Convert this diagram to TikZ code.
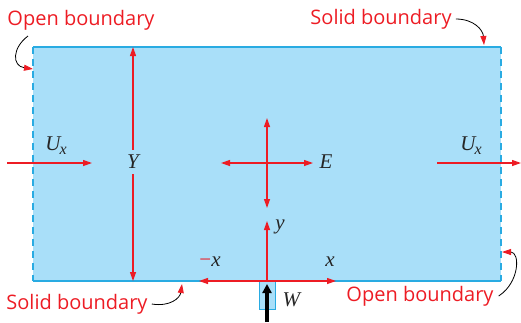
\documentclass[tikz,border=0pt]{standalone}
\usepackage{fontspec}
\setsansfont{Open Sans}
\newfontfamily\symfont{Liberation Serif}
\usepackage{tikz}
\usetikzlibrary{
arrows.meta,
positioning,
calc
}
\definecolor{flowblue}{HTML}{A9DFF9}
\definecolor{edgeblue}{HTML}{29ABE2}
\definecolor{tagred}{HTML}{ED1C24}
\newcommand{\velsym}{U\kern-1pt\raisebox{-4pt}{\fontsize{16}{18}\selectfont x}}

\begin{document}
\begin{tikzpicture}[
x=1pt,y=-1pt,
tag/.style={
font=\sffamily\fontsize{20}{23}\selectfont,
text=tagred,
inner sep=0pt
},
sym/.style={
font=\symfont\itshape\fontsize{21}{24}\selectfont,
text=black!85,
inner sep=1pt
},
flowbox/.style={
fill=flowblue,
minimum width=468pt,
minimum height=234pt,
inner sep=0pt
},
arrow/.style={->,>={Triangle[length=9pt,width=6pt]},draw=tagred,line width=1.2pt},
twoway/.style={arrow,<->},
pointer/.style={->,>={Triangle[length=9pt,width=6pt,color=tagred]},line width=0.8pt},
wall/.style={draw=edgeblue,line width=1.5pt},
openwall/.style={wall,dashed,dash pattern=on 7pt off 5pt}
]
\useasboundingbox (0,0) rectangle (521,322);

% flow domain
\node[flowbox] (dom) at (267,164) {};
\draw[wall] (dom.north west) -- (dom.north east);
\draw[wall] (dom.south west) -- (dom.south east);
\draw[openwall] (dom.north west) -- (dom.south west);
\draw[openwall] (dom.north east) -- (dom.south east);

% jet inlet
\node[fill=flowblue,draw=edgeblue,line width=0.8pt,minimum width=16pt,minimum height=28pt,inner sep=0pt,anchor=north] (jet) at (267,281) {};
\coordinate (jetin) at (267,322);
\coordinate (jettop) at (267,284);
\draw[->,>={Triangle[length=9pt,width=9pt]},line width=4pt] (jetin) -- (jettop);
\node[sym,right=6pt of jet.east,yshift=-4pt] (W) {W};

% uniform stream
\coordinate (inL) at (7,163);
\coordinate (inR) at (92,163);
\coordinate (outL) at (437,163);
\coordinate (outR) at (521,163);
\draw[arrow] (inL) -- (inR);
\draw[arrow] (outL) -- (outR);
\node[sym] (UxL) at (56,146) {\velsym};
\node[sym] (UxR) at (471,146) {\velsym};

% domain height
\node[sym] (Y) at (133,162) {Y};
\coordinate (Ytop) at (133,47);
\coordinate (Ybot) at (133,281);
\draw[arrow] ([yshift=4pt]Y.north) -- (Ytop);
\draw[arrow] ([yshift=-4pt]Y.south) -- (Ybot);

% eddy diffusivity
\coordinate (Ew) at (221,163);
\coordinate (Ee) at (313,163);
\coordinate (En) at (267,118);
\coordinate (Es) at (267,208);
\draw[twoway] (Ew) -- (Ee);
\draw[twoway] (En) -- (Es);
\node[sym] (E) at (326,162) {E};

% axes
\coordinate (origin) at (267,281);
\coordinate (yend) at (267,221);
\coordinate (xend) at (336,281);
\coordinate (nxend) at (199,281);
\draw[arrow] (origin) -- (yend);
\draw[arrow] (origin) -- (xend);
\draw[arrow] (origin) -- (nxend);
\node[sym] (ylab) at (280,227) {y};
\node[sym] (xlab) at (330,262) {x};
\node[sym] (nxlab) at (210,262) {{\upshape\textcolor{tagred}{−}}x};

% boundary labels
\node[tag] (openTL) at (81,20) {Open boundary};
\node[tag] (solidTR) at (381,19) {Solid boundary};
\node[tag] (solidBL) at (77,304) {Solid boundary};
\node[tag] (openBR) at (420,296) {Open boundary};

\coordinate (tipTL) at (33,69);
\coordinate (tipTR) at (484,45);
\coordinate (tipBL) at (182,284);
\coordinate (tipBR) at (502,252);
\draw[pointer] (28,36) .. controls (12,48) and (12,66) .. (tipTL);
\draw[pointer] ([xshift=4pt]solidTR.east) .. controls (474,19) and (483,30) .. (tipTR);
\draw[pointer] ([xshift=4pt]solidBL.east) .. controls (170,307) and (180,298) .. (tipBL);
\draw[pointer] ([xshift=5pt]openBR.east) .. controls (520,282) and (520,252) .. (tipBR);

\end{tikzpicture}
\end{document}
